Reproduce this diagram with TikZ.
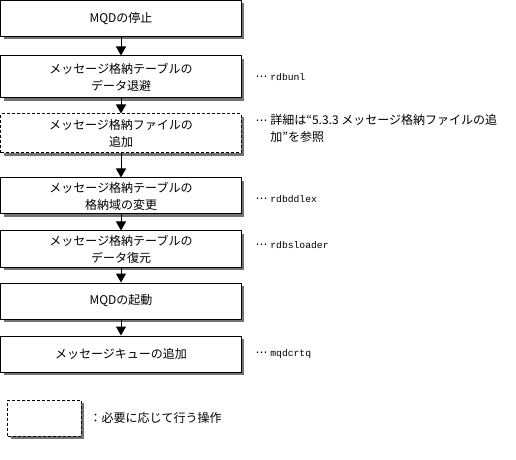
\documentclass[tikz,border=0pt]{standalone}
\usepackage{fontspec}
\setmainfont{Noto Sans CJK JP}
\newfontfamily\cmdfont{Liberation Mono}
\newfontfamily\symfont{DejaVu Sans}
\usetikzlibrary{positioning, arrows.meta, shadows}

\tikzset{
  stepbox/.style={draw, line width=1bp, fill=white, minimum width=240bp, minimum height=36bp,
    align=center, inner sep=0pt, font=\fontsize{12bp}{17bp}\selectfont,
    drop shadow={shadow xshift=3bp, shadow yshift=-3bp, fill=black!55, opacity=1}},
  optbox/.style={stepbox, dash pattern=on 3bp off 2bp},
  note/.style={anchor=west, align=left, inner sep=0pt, font=\fontsize{12bp}{17bp}\selectfont},
  flow/.style={line width=1bp, -{Triangle[width=10bp,length=9bp]}}
}
\newcommand{\cmdname}[1]{{\cmdfont\fontsize{9.7bp}{17bp}\selectfont #1}}
\newcommand{\lead}{{\symfont ⋯}\ }

\begin{document}
\begin{tikzpicture}[x=1bp, y=-1bp]
    \useasboundingbox (0,0) rectangle (516,460);

    \node[stepbox] (stop) at (121,18.5) {MQDの停止};
    \node[stepbox, minimum height=42bp] (unload) at (121,77) {メッセージ格納テーブルの\\データ退避};
    \node[optbox, minimum height=39bp] (addfile) at (121,133.5) {メッセージ格納ファイルの\\追加};
    \node[stepbox] (alter) at (121,196) {メッセージ格納テーブルの\\格納域の変更};
    \node[stepbox] (reload) at (121,249) {メッセージ格納テーブルの\\データ復元};
    \node[stepbox] (start) at (121,301) {MQDの起動};
    \node[stepbox] (addqueue) at (121,354) {メッセージキューの追加};

    \draw[flow] (stop) -- (unload);
    \draw[flow] (unload) -- (addfile);
    \draw[flow] (addfile) -- (alter);
    \draw[flow] (alter) -- (reload);
    \draw[flow] (reload) -- (start);
    \draw[flow] (start) -- (addqueue);

    \node[note, right=14bp of unload] (unloadnote) {\lead\cmdname{rdbunl}};
    \node[note, right=14bp of addfile, yshift=5bp] (addfilenote) {\lead 詳細は“5.3.3 メッセージ格納ファイルの追\\\phantom{\lead}加”を参照};
    \node[note, right=14bp of alter, yshift=-3bp] (alternote) {\lead\cmdname{rdbddlex}};
    \node[note, right=14bp of reload, yshift=4bp] (reloadnote) {\lead\cmdname{rdbsloader}};
    \node[note, right=14bp of addqueue] (addqueuenote) {\lead\cmdname{mqdcrtq}};

    % legend
    \node[optbox, minimum width=73bp] (legend) at (44.5,418) {};
    \node[note, right=8bp of legend] (legendnote) {：必要に応じて行う操作};
\end{tikzpicture}
\end{document}
